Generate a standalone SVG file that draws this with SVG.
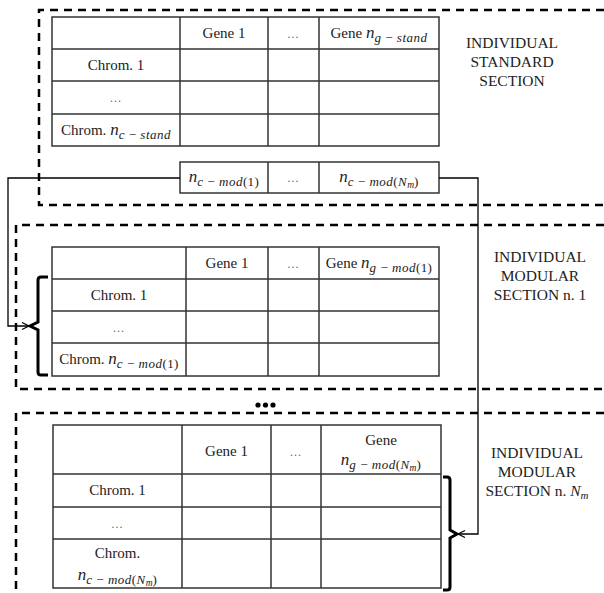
<svg xmlns="http://www.w3.org/2000/svg" width="604" height="593" viewBox="0 0 604 593">
<defs>
<style>
.dash{fill:none;stroke:#000;stroke-width:2.5;stroke-dasharray:8 6}
.tbl{fill:#fff;stroke:#333;stroke-width:1.5}
.ln{fill:none;stroke:#333;stroke-width:1.5}
.t{font-family:"Liberation Serif","Times New Roman",serif;font-size:15px;fill:#222;text-anchor:middle}
.sec{font-family:"Liberation Serif","Times New Roman",serif;font-size:15.5px;fill:#222;text-anchor:middle}
.el{font-family:"Liberation Serif","Times New Roman",serif;font-size:12px;fill:#666;text-anchor:middle;letter-spacing:1px}
.nn{font-style:italic;font-size:17px}
.sb{font-style:italic;font-size:13px;letter-spacing:0.5px}
.pr{font-style:normal;font-size:13px;letter-spacing:0.4px}
.ss{font-style:italic;font-size:9.5px}
.i{font-style:italic}
.conn{fill:none;stroke:#000;stroke-width:1.3}
.brace{fill:none;stroke:#000;stroke-width:3;stroke-linejoin:miter}
</style>
<marker id="arr" markerWidth="10" markerHeight="10" refX="8" refY="4" orient="auto" markerUnits="userSpaceOnUse">
<path d="M1,0.5 L8,4 L1,7.5" fill="none" stroke="#000" stroke-width="1.2"/>
</marker>
</defs>

<g id="section-standard">
<path class="dash" d="M604,10 H39 V205 H604"/>
<rect class="tbl" x="52" y="17" width="387" height="129"/>
<path class="ln" d="M180,17 V146 M268,17 V146 M319,17 V146 M52,49 H439 M52,81 H439 M52,114 H439"/>
<text class="t" x="224" y="38">Gene 1</text>
<text class="el" x="293.5" y="38">…</text>
<text class="t" x="379" y="38">Gene <tspan class="nn">n</tspan><tspan class="sb" dy="4">g&#8201;−&#8201;stand</tspan></text>
<text class="t" x="116" y="70">Chrom.  1</text>
<text class="el" x="116" y="102">…</text>
<text class="t" x="116" y="135">Chrom. <tspan class="nn">n</tspan><tspan class="sb" dy="4">c&#8201;−&#8201;stand</tspan></text>
<text class="sec" x="512" y="48">INDIVIDUAL</text>
<text class="sec" x="512" y="67">STANDARD</text>
<text class="sec" x="512" y="86">SECTION</text>
</g>

<g id="modular-counts">
<rect class="tbl" x="180" y="162" width="259" height="31"/>
<path class="ln" d="M268,162 V193 M319,162 V193"/>
<text class="t" x="224" y="182"><tspan class="nn">n</tspan><tspan class="sb" dy="4">c&#8201;−&#8201;mod</tspan><tspan class="pr">(1)</tspan></text>
<text class="el" x="293.5" y="182">…</text>
<text class="t" x="379" y="182"><tspan class="nn">n</tspan><tspan class="sb" dy="4">c&#8201;−&#8201;mod</tspan><tspan class="pr">(</tspan><tspan class="sb">N</tspan><tspan class="ss" dy="2">m</tspan><tspan class="pr" dy="-2">)</tspan></text>
</g>

<g id="section-modular-1">
<path class="dash" d="M604,225 H16 V389 H604"/>
<rect class="tbl" x="52" y="247" width="387" height="129"/>
<path class="ln" d="M186,247 V376 M268,247 V376 M319,247 V376 M52,279 H439 M52,311 H439 M52,343 H439"/>
<text class="t" x="227" y="268">Gene 1</text>
<text class="el" x="293.5" y="268">…</text>
<text class="t" x="379" y="268">Gene <tspan class="nn">n</tspan><tspan class="sb" dy="4">g&#8201;−&#8201;mod</tspan><tspan class="pr">(1)</tspan></text>
<text class="t" x="119" y="300">Chrom.  1</text>
<text class="el" x="119" y="332">…</text>
<text class="t" x="119" y="364">Chrom. <tspan class="nn">n</tspan><tspan class="sb" dy="4">c&#8201;−&#8201;mod</tspan><tspan class="pr">(1)</tspan></text>
<path class="brace" d="M48,277 H41 Q38,277 38,280 V322 L30,326 L38,330 V372 Q38,375 41,375 H48"/>
<text class="sec" x="540" y="262">INDIVIDUAL</text>
<text class="sec" x="540" y="281">MODULAR</text>
<text class="sec" x="540" y="300">SECTION n. 1</text>
</g>

<g id="ellipsis">
<circle cx="258" cy="405" r="2.6" fill="#000"/>
<circle cx="265.5" cy="405" r="2.6" fill="#000"/>
<circle cx="273" cy="405" r="2.6" fill="#000"/>
</g>

<g id="section-modular-n">
<path class="dash" d="M604,413 H16 V593"/>
<rect class="tbl" x="53" y="425" width="388" height="163"/>
<path class="ln" d="M182,425 V588 M271,425 V588 M321,425 V588 M53,474 H441 M53,507 H441 M53,539 H441"/>
<text class="t" x="226.5" y="456">Gene 1</text>
<text class="el" x="296" y="456">…</text>
<text class="t" x="381" y="445">Gene</text>
<text class="t" x="381" y="465"><tspan class="nn">n</tspan><tspan class="sb" dy="4">g&#8201;−&#8201;mod</tspan><tspan class="pr">(</tspan><tspan class="sb">N</tspan><tspan class="ss" dy="2">m</tspan><tspan class="pr" dy="-2">)</tspan></text>
<text class="t" x="117.5" y="495">Chrom.  1</text>
<text class="el" x="117.5" y="528">…</text>
<text class="t" x="117.5" y="558">Chrom.</text>
<text class="t" x="117.5" y="580"><tspan class="nn">n</tspan><tspan class="sb" dy="4">c&#8201;−&#8201;mod</tspan><tspan class="pr">(</tspan><tspan class="sb">N</tspan><tspan class="ss" dy="2">m</tspan><tspan class="pr" dy="-2">)</tspan></text>
<path class="brace" d="M443,477 H447 Q450,477 450,480 V530 L457,534 L450,538 V587 Q450,590 447,590 H443"/>
<text class="sec" x="537" y="458">INDIVIDUAL</text>
<text class="sec" x="537" y="477">MODULAR</text>
<text class="sec" x="537" y="496">SECTION n. <tspan class="i">N</tspan><tspan class="i" font-size="11" dy="3">m</tspan></text>
</g>

<g id="connectors">
<path class="conn" d="M180,178 H8 V326 H29" marker-end="url(#arr)"/>
<path class="conn" d="M439,178 H478 V534 H458" marker-end="url(#arr)"/>
</g>
</svg>
